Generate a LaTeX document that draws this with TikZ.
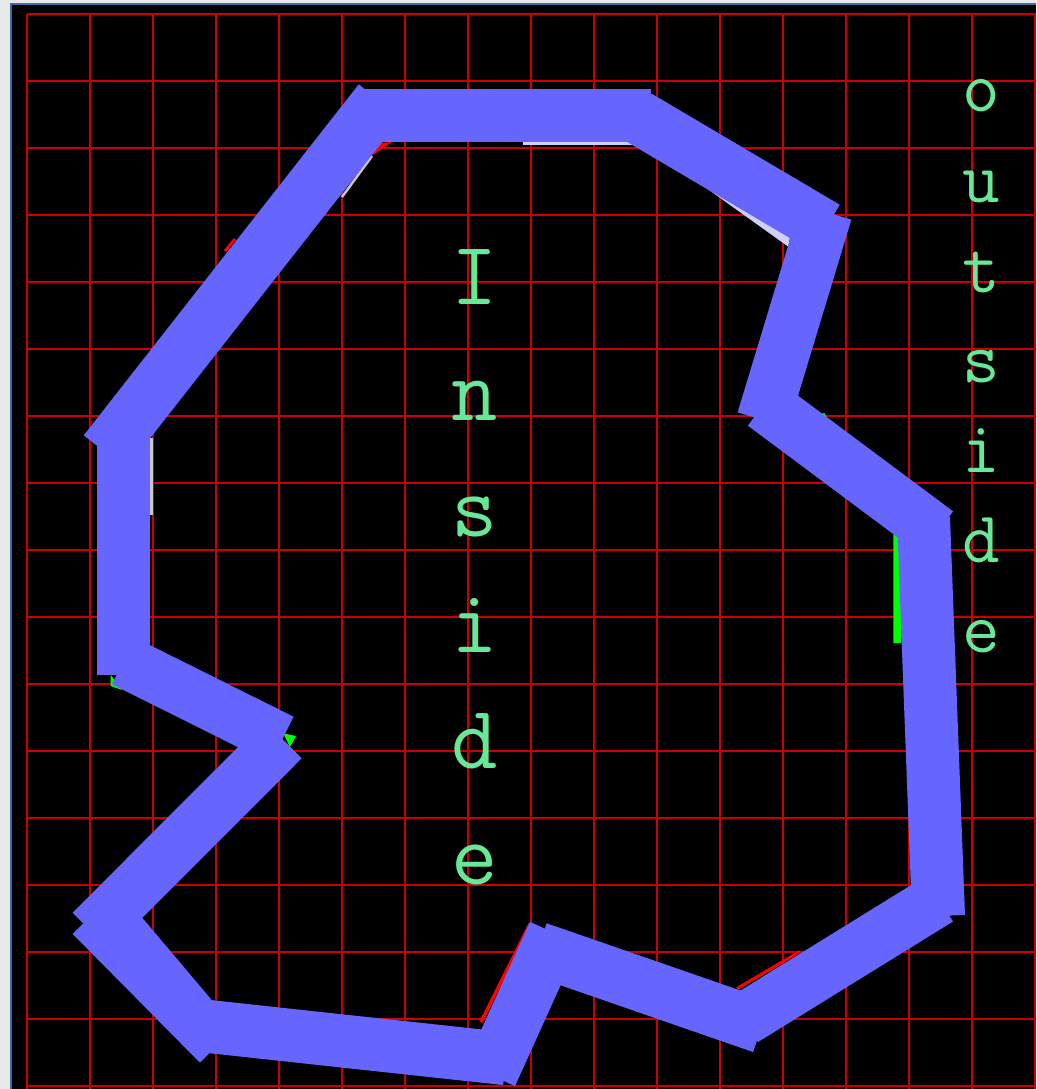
\documentclass[tikz,border=0pt]{standalone}
\usepackage{fontspec}
\definecolor{bandblue}{RGB}{102,102,255}
\definecolor{gridred}{RGB}{204,0,0}
\definecolor{txtgreen}{RGB}{102,232,150}
\definecolor{framegray}{RGB}{232,232,232}
\definecolor{frameblue}{RGB}{58,110,165}
\definecolor{slivergray}{RGB}{200,200,200}
\definecolor{sliverblue}{RGB}{208,208,255}
\definecolor{slivergreen}{RGB}{0,255,0}
\definecolor{sliverred}{RGB}{255,0,0}
\begin{document}
\begin{tikzpicture}[x=1pt,y=-1pt,
  band/.style={draw=bandblue,line width=54pt,line cap=butt},
  gridline/.style={draw=gridred,line width=2pt},
  insidetxt/.style={text=txtgreen,font=\fontsize{90}{90}\selectfont\ttfamily,inner sep=0pt,anchor=base},
  outsidetxt/.style={text=txtgreen,font=\fontsize{73}{73}\selectfont\ttfamily,inner sep=0pt,anchor=base}]
\useasboundingbox (0,0) rectangle (1036,1089);
% window frame and black canvas
\fill[framegray] (0,0) rectangle (1036,1089);
\fill[frameblue] (10,3) rectangle (1036,1089);
\fill[black] (12,5) rectangle (1036,1089);
% grid
\foreach \k in {0,...,16} {
  \pgfmathsetmacro\gx{26.5+63*\k}
  \pgfmathsetmacro\gy{14+67*\k}
  \draw[gridline] (\gx,14) -- (\gx,1089);
  \draw[gridline] (26.5,\gy) -- (1036,\gy);
}
% underlying thin polygon slivers
\draw[slivergray,line width=3pt] (151,438) -- (151,515);
\draw[slivergray,line width=2.5pt] (342,197) -- (372,156);
\fill[sliverred] (371,156) -- (378,143) -- (392,142) -- cycle;
\draw[sliverred,line width=3pt] (225,251) -- (235,239);
\fill[sliverblue] (523,141.5) rectangle (633,144.5);
\fill[sliverblue] (706.7,188.3) -- (790,237.3) -- (788.3,246.7) -- cycle;
\draw[slivergreen,line width=5pt] (822,414) -- (890,528);
\fill[slivergreen] (883,523) -- (893.3,531) -- (901,533) -- (901,643) -- (893.3,643) -- (893.3,533) -- cycle;
\fill[slivergreen] (110.7,675) -- (110.7,686) -- (122,690) -- cycle;
\fill[slivergreen] (283.3,733.3) -- (296,736) -- (290,747) -- cycle;
\draw[sliverred,line width=3.5pt] (481,1022) -- (530,924);
\draw[sliverred,line width=3pt] (737,988.5) -- (800,951.5);
% thick blue outline, one segment at a time
\draw[band] (380,101) -- (105,452);
\draw[band,line width=53pt] (365,115.5) -- (651,115.5);
\draw[band] (638,117) -- (826,228);
\draw[band,line width=53pt] (826,212) -- (763,420);
\draw[band] (764,404) -- (937,533);
\draw[band,line width=53pt] (923.5,518) -- (938.5,916);
\draw[band,line width=53pt] (939,899) -- (744,1019.5);
\draw[band] (537.8,948.8) -- (761.9,1026.5);
\draw[band] (554.6,933) -- (490.4,1075);
\draw[band,line width=53pt] (209,1026.5) -- (506,1058.7);
\fill[bandblue] (72.7,934) -- (110.2,896.5) -- (142.7,918.3) -- (211.7,1000) -- (237.5,1025) -- (200,1062.7) -- cycle;
\draw[band,line width=53pt] (282.9,739.6) -- (91.4,931.4);
\draw[band,line width=52pt] (123.5,661) -- (282,740);
\draw[band,line width=53pt] (123.3,436) -- (123.3,675);
% labels
\foreach \ch [count=\i from 0] in {I,n,s,i,d,e} {
  \pgfmathsetmacro\by{304+116*\i}
  \node[insidetxt] (in\i) at (475,\by) {\ch};
}
\foreach \ch [count=\i from 0] in {o,u,t,s,i,d,e} {
  \pgfmathsetmacro\by{112+90*\i}
  \node[outsidetxt] (out\i) at (981,\by) {\ch};
}
\end{tikzpicture}
\end{document}
